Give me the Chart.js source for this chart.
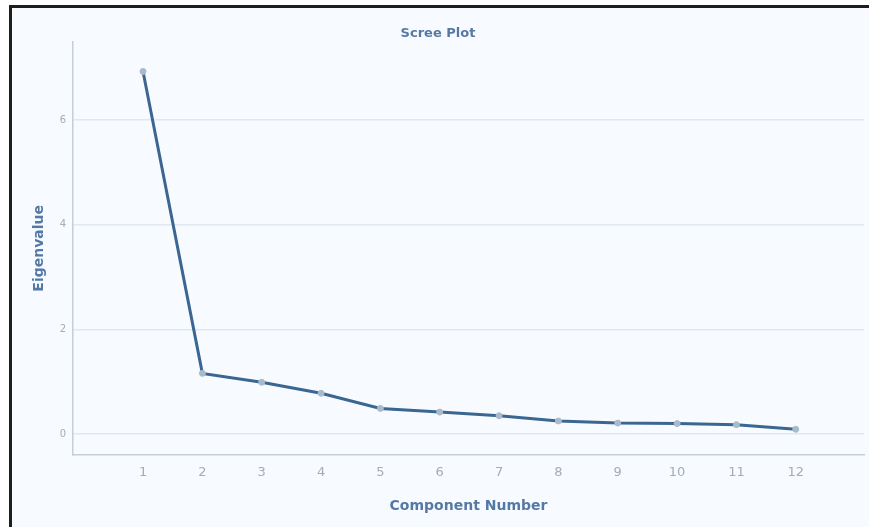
<!DOCTYPE html>
<html>
<head>
<meta charset="utf-8">
<script src="https://cdn.jsdelivr.net/npm/chart.js@4.4.1/dist/chart.umd.min.js"></script>
<style>
  html, body { margin: 0; padding: 0; background: #ffffff; }
  #frame {
    position: absolute; left: 9px; top: 5px;
    width: 857px; height: 519px;
    border-left: 3px solid #1e1e1e; border-top: 3px solid #1e1e1e;
    background: #f7fbff;
  }
  canvas { display: block; }
</style>
</head>
<body>
<div id="frame"><canvas id="scree_chart" width="857" height="519"></canvas></div>
<script>
const components = [1, 2, 3, 4, 5, 6, 7, 8, 9, 10, 11, 12];
const eigenvalues = [6.93, 1.16, 0.99, 0.78, 0.49, 0.42, 0.35, 0.25, 0.21, 0.20, 0.18, 0.09];
const y_ticks = [0, 2, 4, 6];

const title_color = "#5479a4";
const tick_color = "#a6acb3";

function draw_chart(chart_id) {
    const ctx = document.getElementById(chart_id).getContext('2d');
    return new Chart(ctx, {
        type: 'line',
        data: {
            datasets: [{
                label: "Eigenvalue",
                data: components.map((c, i) => ({x: c, y: eigenvalues[i]})),
                borderColor: "#3b6691",
                borderWidth: 3,
                pointRadius: 3,
                pointBackgroundColor: "#a9bacb",
                pointBorderColor: "#a9bacb",
                pointBorderWidth: 1,
                tension: 0
            }]
        },
        options: {
            responsive: false,
            animation: false,
            layout: {padding: {left: 0, right: 5, top: 0, bottom: 0}},
            plugins: {
                legend: {display: false},
                tooltip: {enabled: false},
                title: {
                    display: true,
                    text: "Scree Plot",
                    color: title_color,
                    font: {family: "DejaVu Sans", size: 13, weight: 'bold'},
                    padding: {top: 18, bottom: 0}
                }
            },
            scales: {
                x: {
                    type: 'linear',
                    min: -0.18,
                    max: 13.15,
                    afterBuildTicks: (scale) => { scale.ticks = components.map(v => ({value: v})); },
                    afterFit: (scale) => { scale.height = 72; },
                    grid: {display: false},
                    border: {display: true, color: "#c6cdd4", width: 1.5},
                    ticks: {
                        color: tick_color,
                        padding: 2,
                        font: {family: "DejaVu Sans", size: 13}
                    },
                    title: {
                        display: true,
                        text: "Component Number",
                        color: title_color,
                        font: {family: "DejaVu Sans", size: 14, weight: 'bold'},
                        padding: {top: 4, bottom: 12}
                    }
                },
                y: {
                    min: -0.4,
                    max: 7.5,
                    afterBuildTicks: (scale) => { scale.ticks = y_ticks.map(v => ({value: v})); },
                    afterFit: (scale) => { scale.width = 61; },
                    grid: {color: "#e0e7ee", lineWidth: 1.5, drawTicks: false},
                    border: {display: true, color: "#c6cdd4", width: 1.5},
                    ticks: {
                        color: tick_color,
                        padding: 7,
                        font: {family: "DejaVu Sans", size: 10}
                    },
                    title: {
                        display: true,
                        text: "Eigenvalue",
                        color: title_color,
                        font: {family: "DejaVu Sans", size: 14, weight: 'bold'},
                        padding: {top: 19, bottom: 0}
                    }
                }
            }
        }
    });
}

draw_chart("scree_chart");
</script>
</body>
</html>
